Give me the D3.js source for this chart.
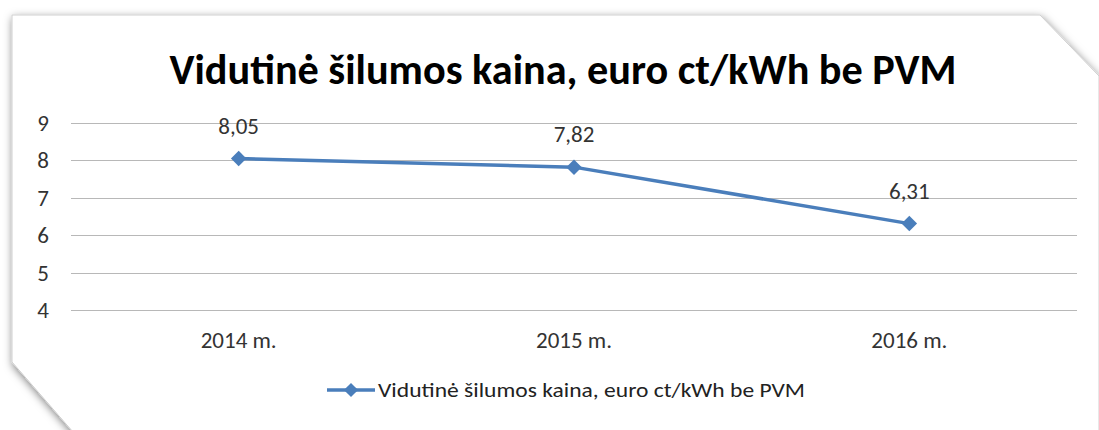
<!DOCTYPE html>
<html>
<head>
<meta charset="utf-8">
<script src="https://cdn.jsdelivr.net/npm/d3@7"></script>
<style>
  body { margin: 0; background: #fff; }
  #container { width: 1099px; height: 430px; }
</style>
</head>
<body>
<div id="container"></div>
<script>
const title = "Vidutinė šilumos kaina, euro ct/kWh be PVM";
const seriesName = "Vidutinė šilumos kaina, euro ct/kWh be PVM";
const categories = ["2014 m.", "2015 m.", "2016 m."];
const values = [8.05, 7.82, 6.31];
const yTicks = [4, 5, 6, 7, 8, 9];

const chart = () => {
  const width = 1099, height = 430;
  const margin = {left: 71, right: 22};
  const font = "Carlito, Lato, 'Open Sans', sans-serif";
  const blue = "#4a7ebb";

  const svg = d3.create("svg")
    .attr("width", width)
    .attr("height", height);

  const f = svg.append("defs").append("filter").attr("id", "shadow")
    .attr("x", "-5%").attr("y", "-10%").attr("width", "110%").attr("height", "125%");
  f.append("feDropShadow").attr("dx", 1).attr("dy", 3)
    .attr("stdDeviation", 4).attr("flood-color", "#000").attr("flood-opacity", 0.5);

  // frame with cut corners
  svg.append("path")
    .attr("d", "M12,15 L1040,15 L1099,76 L1099,440 L80,440 L12,362 Z")
    .attr("fill", "#fff")
    .attr("stroke", "#d0d0d0")
    .attr("stroke-width", 1)
    .attr("filter", "url(#shadow)");

  const x = d3.scaleBand()
    .domain(categories)
    .range([margin.left, width - margin.right]);

  const y = d3.scaleLinear()
    .domain([4, 9])
    .range([310, 123]);

  svg.append("text")
    .attr("x", 563)
    .attr("y", 84)
    .attr("text-anchor", "middle")
    .attr("font-family", font)
    .attr("font-weight", "bold")
    .attr("font-size", 42)
    .attr("fill", "#000")
    .attr("textLength", 787)
    .attr("lengthAdjust", "spacingAndGlyphs")
    .text(title);

  // grid
  svg.append("g")
    .selectAll("line")
    .data(yTicks)
    .join("line")
    .attr("x1", margin.left)
    .attr("x2", width - margin.right)
    .attr("y1", d => Math.round(y(d)) + 0.5)
    .attr("y2", d => Math.round(y(d)) + 0.5)
    .attr("stroke", "#b8b8b8")
    .attr("stroke-width", 1);

  svg.append("g")
    .attr("font-family", font)
    .attr("font-size", 23)
    .attr("fill", "#333")
    .attr("text-anchor", "middle")
    .selectAll("text")
    .data(yTicks)
    .join("text")
    .attr("x", 43)
    .attr("y", d => y(d) + 8)
    .text(d => d);

  svg.append("g")
    .attr("font-family", font)
    .attr("font-size", 23)
    .attr("fill", "#333")
    .attr("text-anchor", "middle")
    .selectAll("text")
    .data(categories)
    .join("text")
    .attr("x", d => x(d) + x.bandwidth() / 2)
    .attr("y", 348)
    .text(d => d);

  const pts = categories.map((c, i) => [x(c) + x.bandwidth() / 2, y(values[i])]);

  svg.append("path")
    .attr("d", d3.line()(pts))
    .attr("fill", "none")
    .attr("stroke", blue)
    .attr("stroke-width", 3.5)
    .attr("stroke-linejoin", "round");

  svg.append("g")
    .selectAll("path")
    .data(pts)
    .join("path")
    .attr("transform", d => `translate(${d[0]},${d[1]}) rotate(45)`)
    .attr("d", d3.symbol().type(d3.symbolSquare).size(120))
    .attr("fill", blue);

  svg.append("g")
    .attr("font-family", font)
    .attr("font-size", 23)
    .attr("fill", "#333")
    .attr("text-anchor", "middle")
    .selectAll("text")
    .data(pts)
    .join("text")
    .attr("x", d => d[0])
    .attr("y", d => d[1] - 25)
    .text((d, i) => values[i].toFixed(2).replace(".", ","));

  // legend
  const lg = svg.append("g").attr("transform", "translate(327,390)");
  lg.append("line").attr("x1", 0).attr("x2", 48).attr("y1", 0).attr("y2", 0)
    .attr("stroke", blue).attr("stroke-width", 3.5);
  lg.append("path").attr("transform", "translate(24,0) rotate(45)")
    .attr("d", d3.symbol().type(d3.symbolSquare).size(100))
    .attr("fill", blue);
  lg.append("text")
    .attr("x", 51).attr("y", 7)
    .attr("font-family", font)
    .attr("font-size", 21)
    .attr("fill", "#222")
    .attr("textLength", 427)
    .attr("lengthAdjust", "spacingAndGlyphs")
    .text(seriesName);

  return svg.node();
};

const container = document.getElementById("container");
container.innerHTML = '';
container.appendChild(chart());
</script>
</body>
</html>
